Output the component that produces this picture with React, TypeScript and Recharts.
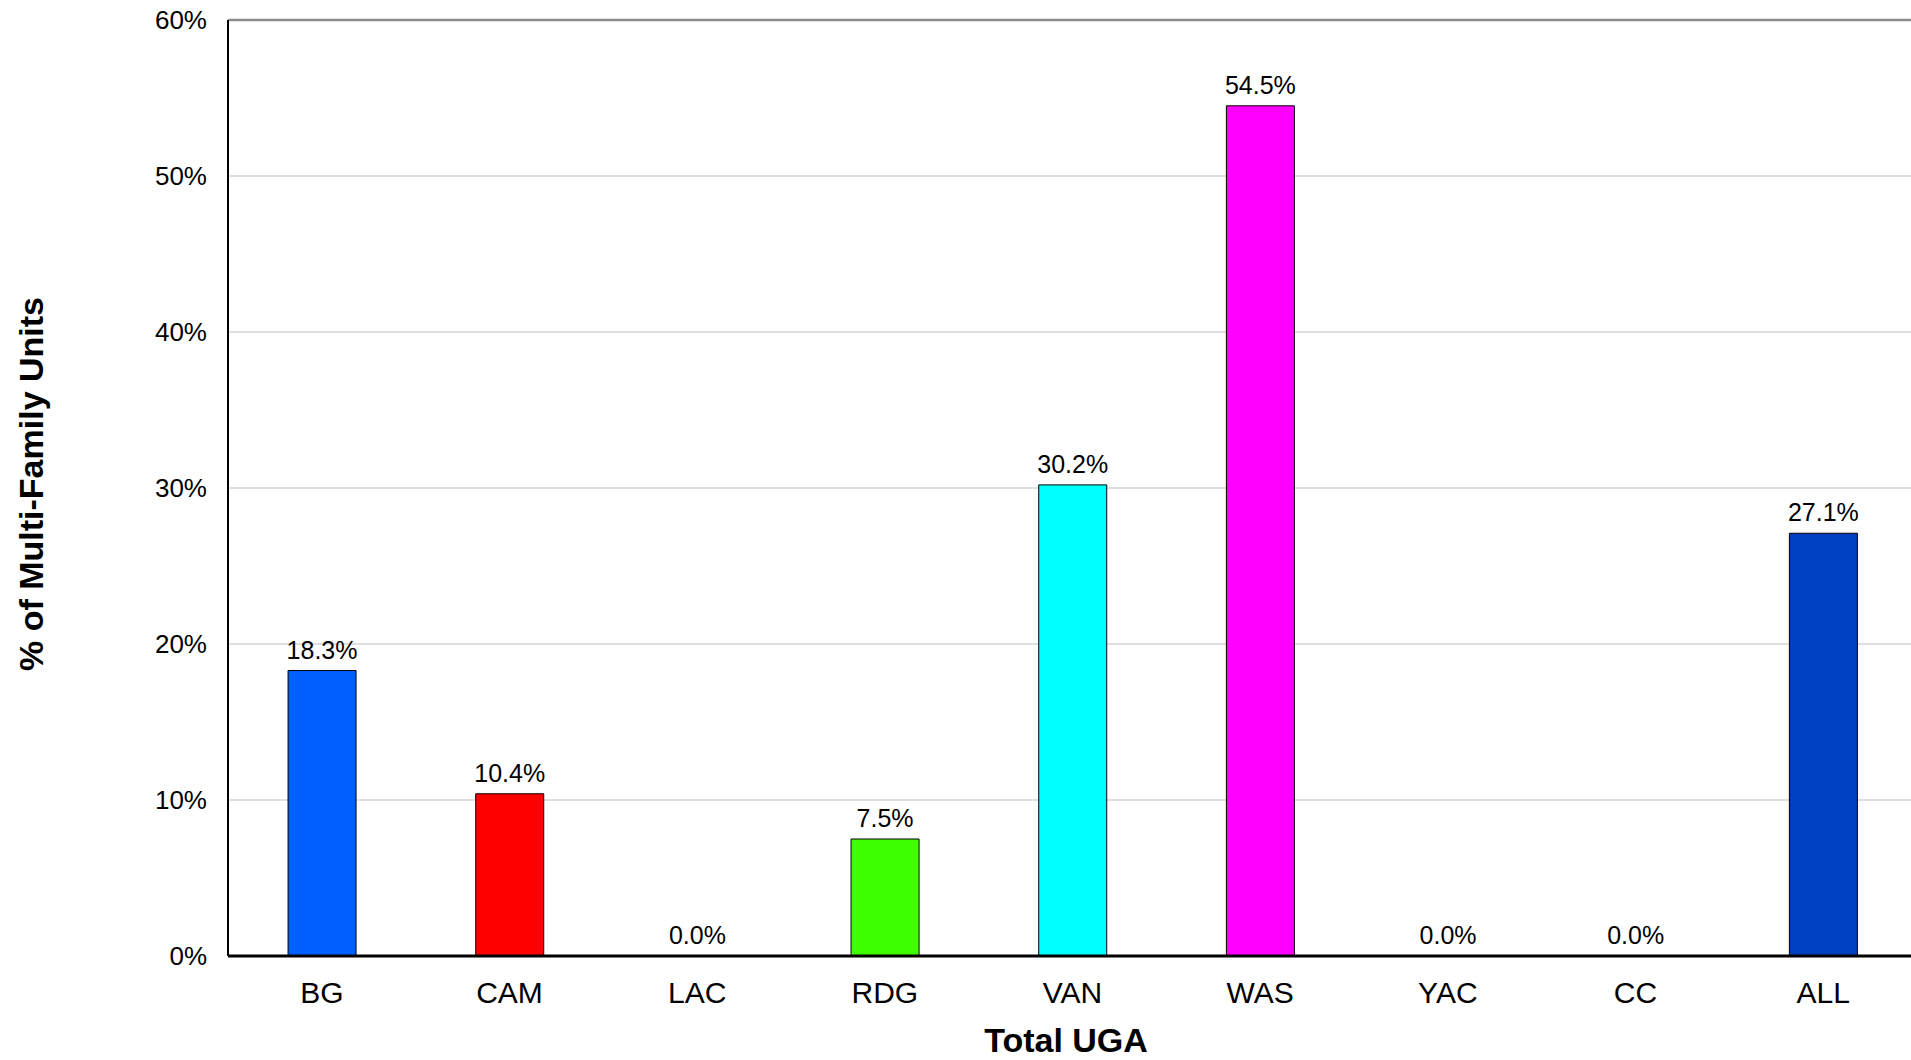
import { BarChart, Bar, XAxis, YAxis, CartesianGrid, ReferenceLine, LabelList, Cell } from "recharts";

const categories = ["BG", "CAM", "LAC", "RDG", "VAN", "WAS", "YAC", "CC", "ALL"];
const shares = [18.3, 10.4, 0.0, 7.5, 30.2, 54.5, 0.0, 0.0, 27.1];
const barColors = ["#0060FF", "#FF0000", "#FFFFFF", "#40FF00", "#00FFFF", "#FF00FF", "#FFFFFF", "#FFFFFF", "#0040C0"];
const yTicks = [0, 10, 20, 30, 40, 50, 60];

const data = categories.map((name, i) => ({ name, value: shares[i] }));

const font = "'Liberation Sans', Arial, sans-serif";

const YTitle = () => (
  <text
    x={0}
    y={0}
    transform="translate(43, 484) rotate(-90)"
    textAnchor="middle"
    fontFamily={font}
    fontWeight="bold"
    fontSize={34}
    fill="#000"
  >
    % of Multi-Family Units
  </text>
);

const XTitle = () => (
  <text x={1066} y={1052} textAnchor="middle" fontFamily={font} fontWeight="bold" fontSize={34} fill="#000">
    Total UGA
  </text>
);

// zero-height bars still need their "0.0%" label
const renderValue = (props: any) => {
  const { x, y, width, value } = props;
  if (x == null || y == null || value == null) return null;
  return (
    <text x={Number(x) + Number(width) / 2} y={Number(y) - 12} textAnchor="middle" fontFamily={font} fontSize={25} fill="#000">
      {`${Number(value).toFixed(1)}%`}
    </text>
  );
};

export default function App() {
  return (
    <div style={{ position: "fixed", left: 0, top: 0, width: 1911, height: 1060, overflow: "hidden", background: "#fff" }}>
      <BarChart width={1920} height={1060} data={data} margin={{ top: 20, right: 3, left: 0, bottom: 0 }} barCategoryGap="32%">
        <CartesianGrid vertical={false} stroke="#d4d4d4" strokeWidth={1.5} />
        <XAxis
          dataKey="name"
          height={104}
          axisLine={{ stroke: "#000", strokeWidth: 3 }}
          tickLine={false}
          tickSize={6}
          tickMargin={20}
          tick={{ fill: "#000", fontSize: 30, fontFamily: font }}
          label={<XTitle />}
        />
        <YAxis
          width={228}
          domain={[0, 60]}
          ticks={yTicks}
          interval={0}
          axisLine={{ stroke: "#000", strokeWidth: 2 }}
          tickLine={false}
          tickSize={6}
          tickMargin={15}
          tickFormatter={(v: number) => `${v}%`}
          tick={{ fill: "#000", fontSize: 26, fontFamily: font }}
          label={<YTitle />}
        />
        <ReferenceLine y={60} stroke="#8c8c8c" strokeWidth={2.5} />
        <Bar dataKey="value" minPointSize={0.5} isAnimationActive={false}>
          {data.map((d, i) => (
            <Cell
              key={d.name}
              fill={d.value === 0 ? "none" : barColors[i]}
              stroke={d.value === 0 ? "none" : "#000"}
              strokeWidth={1}
            />
          ))}
          <LabelList dataKey="value" content={renderValue} />
        </Bar>
      </BarChart>
    </div>
  );
}
